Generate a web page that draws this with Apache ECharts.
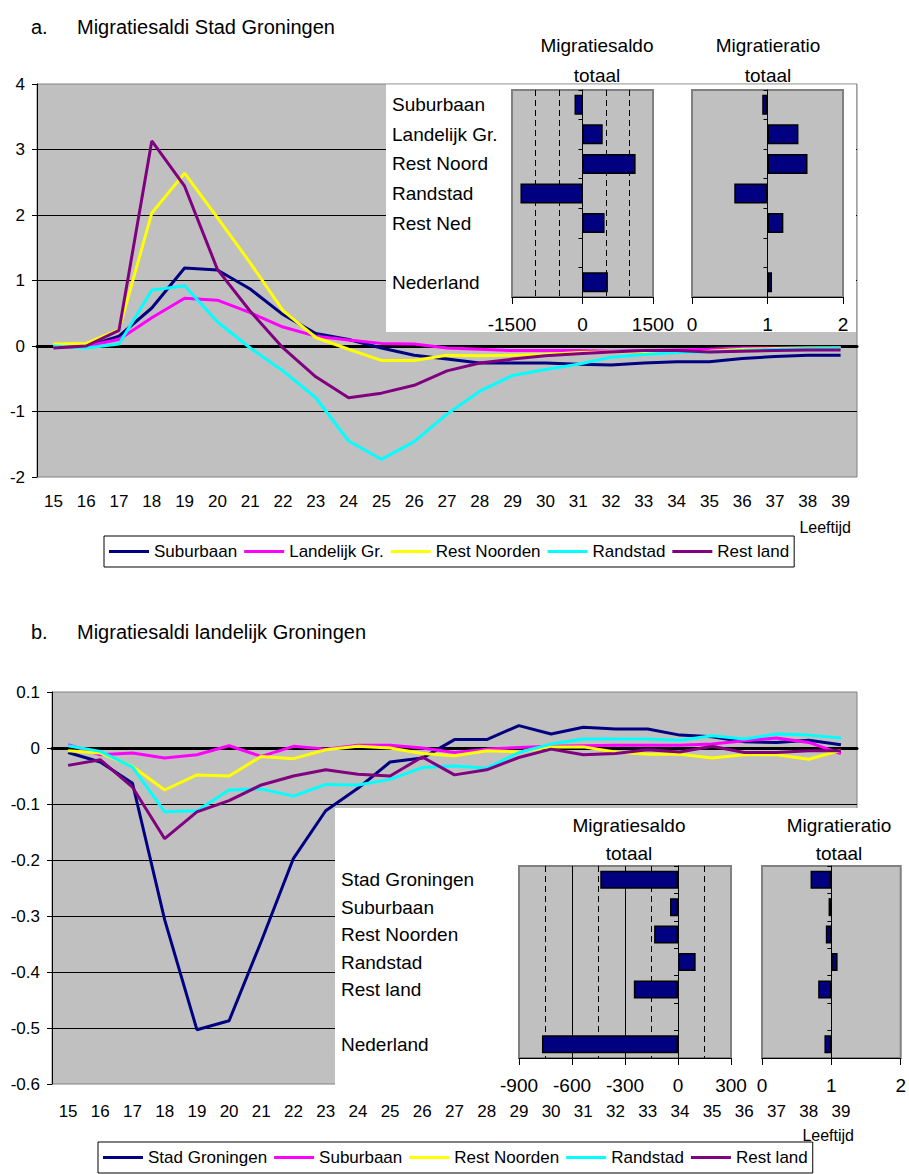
<!DOCTYPE html>
<html>
<head>
<meta charset="utf-8">
<title>Migratiesaldi Groningen</title>
<script src="https://cdn.jsdelivr.net/npm/echarts@6/dist/echarts.min.js"></script>
<style>
  html, body { margin: 0; padding: 0; background: #fff; }
  #chart { width: 909px; height: 1174px; }
</style>
</head>
<body>
<div id="chart"></div>
<script>
var FONT = "'Liberation Sans', Arial, Helvetica, sans-serif";

// x categories (leeftijd)
var ages = ['15','16','17','18','19','20','21','22','23','24','25','26','27',
            '28','29','30','31','32','33','34','35','36','37','38','39'];

// panel a: Stad Groningen
var namesA = ['Suburbaan', 'Landelijk Gr.', 'Rest Noorden', 'Randstad', 'Rest land'];
var suburbaanA   = [-0.01, -0.01, 0.15, 0.58, 1.19, 1.16, 0.87, 0.48, 0.19, 0.10, -0.03, -0.14, -0.20, -0.26, -0.26, -0.26, -0.28, -0.29, -0.26, -0.24, -0.24, -0.19, -0.16, -0.14, -0.14];
var landelijkA   = [-0.01, 0.00, 0.10, 0.43, 0.73, 0.70, 0.51, 0.29, 0.15, 0.09, 0.04, 0.03, -0.03, -0.05, -0.07, -0.07, -0.07, -0.08, -0.07, -0.06, -0.05, -0.03, -0.03, -0.03, -0.03];
var restNoordenA = [0.03, 0.04, 0.25, 2.03, 2.64, 1.96, 1.27, 0.54, 0.13, -0.05, -0.22, -0.22, -0.14, -0.15, -0.14, -0.13, -0.10, -0.09, -0.08, -0.10, -0.08, -0.05, -0.04, -0.03, -0.03];
var randstadA    = [0.00, -0.03, 0.03, 0.85, 0.92, 0.37, -0.03, -0.38, -0.79, -1.45, -1.73, -1.46, -1.04, -0.69, -0.45, -0.36, -0.28, -0.17, -0.13, -0.10, -0.09, -0.07, -0.05, -0.04, -0.03];
var restLandA    = [-0.03, 0.00, 0.24, 3.13, 2.44, 1.17, 0.53, -0.03, -0.47, -0.79, -0.72, -0.60, -0.38, -0.26, -0.20, -0.15, -0.12, -0.09, -0.07, -0.07, -0.09, -0.08, -0.07, -0.06, -0.06];

// panel b: landelijk Groningen
var namesB = ['Stad Groningen', 'Suburbaan', 'Rest Noorden', 'Randstad', 'Rest land'];
var stadB        = [-0.008, -0.025, -0.063, -0.307, -0.503, -0.487, -0.345, -0.197, -0.112, -0.072, -0.025, -0.018, 0.015, 0.015, 0.040, 0.025, 0.037, 0.034, 0.034, 0.023, 0.020, 0.011, 0.010, 0.014, 0.006];
var suburbaanB   = [0.006, -0.012, -0.009, -0.018, -0.012, 0.004, -0.015, 0.003, -0.002, 0.005, 0.005, 0.000, -0.008, -0.002, 0.001, 0.003, 0.004, 0.005, 0.005, 0.005, 0.007, 0.013, 0.018, 0.010, -0.010];
var restNoordenB = [-0.005, -0.009, -0.033, -0.075, -0.048, -0.050, -0.015, -0.019, -0.003, 0.003, 0.000, -0.010, -0.014, -0.005, -0.007, 0.002, 0.002, -0.007, -0.011, -0.011, -0.018, -0.012, -0.012, -0.020, -0.004];
var randstadB    = [0.004, -0.006, -0.034, -0.114, -0.112, -0.075, -0.073, -0.086, -0.065, -0.066, -0.056, -0.035, -0.032, -0.036, -0.008, 0.007, 0.016, 0.016, 0.016, 0.014, 0.022, 0.016, 0.025, 0.023, 0.018];
var restLandB    = [-0.031, -0.021, -0.070, -0.162, -0.114, -0.094, -0.066, -0.050, -0.039, -0.047, -0.050, -0.016, -0.048, -0.039, -0.017, -0.002, -0.012, -0.010, -0.003, -0.007, 0.003, -0.008, -0.008, -0.005, -0.005];

// inset bars
var regionsA = ['Suburbaan', 'Landelijk Gr.', 'Rest Noord', 'Randstad', 'Rest Ned', '', 'Nederland'];
var saldoA   = [-170, 430, 1130, -1320, 470, null, 540];
var ratioA   = [0.93, 1.41, 1.53, 0.56, 1.21, null, 1.06];

var regionsB = ['Stad Groningen', 'Suburbaan', 'Rest Noorden', 'Randstad', 'Rest land', '', 'Nederland'];
var saldoB   = [-440, -45, -135, 100, -250, null, -770];
var ratioB   = [0.70, 0.96, 0.92, 1.09, 0.81, null, 0.90];

var lineColors = ['#000080', '#ff00ff', '#ffff00', '#00ffff', '#800080'];

var chart = echarts.init(document.getElementById('chart'), null, { renderer: 'svg' });

var mainGrid = { show: true, backgroundColor: '#c0c0c0', borderColor: '#808080', borderWidth: 1, z: 0 };
var insetGrid = { show: true, backgroundColor: '#c0c0c0', borderColor: '#808080', borderWidth: 2, z: 2 };

function grid(base, l, t, w, h) {
  return Object.assign({}, base, { left: l, top: t, width: w, height: h });
}

function mainX(gi, margin) {
  return [{
    type: 'category', gridIndex: gi, data: ages, position: 'bottom',
    axisLine: { show: false, onZero: false }, axisTick: { show: false },
    axisLabel: { interval: 0, fontSize: 17, fontFamily: FONT, color: '#000', margin: margin }
  }, {
    // thick black line at 0
    type: 'category', gridIndex: gi, data: ages, position: 'bottom',
    axisLine: { show: true, onZero: true, lineStyle: { color: '#000', width: 3 } },
    axisTick: { show: false }, axisLabel: { show: false }
  }];
}

function mainY(gi, min, max, step) {
  return {
    type: 'value', gridIndex: gi, min: min, max: max, interval: step, position: 'left',
    axisLine: { show: true, onZero: false, lineStyle: { color: '#000', width: 1 } },
    axisTick: { show: true, length: 5, lineStyle: { color: '#000' } },
    axisLabel: { fontSize: 17, fontFamily: FONT, color: '#000', margin: 12,
      showMinLabel: true, showMaxLabel: true,
      formatter: function (v) { return String(Math.round(v * 10) / 10); } },
    splitLine: { show: true, showMinLine: false, showMaxLine: false, lineStyle: { color: '#000', width: 1 } }
  };
}

function insetX(gi, min, max, step, minorSplit, major, fmt) {
  return {
    type: 'value', gridIndex: gi, min: min, max: max, interval: step, position: 'bottom', z: 2,
    axisLine: { show: true, onZero: false, lineStyle: { color: '#000', width: 1 } },
    axisTick: { show: true, length: 7, lineStyle: { color: '#000' } },
    axisLabel: { fontSize: 19, fontFamily: FONT, color: '#000', margin: 18,
      showMinLabel: true, showMaxLabel: true, formatter: fmt },
    splitLine: { show: major, showMinLine: false, showMaxLine: false, lineStyle: { color: '#000', width: 1 } },
    minorTick: { show: false, splitNumber: minorSplit || 2 },
    minorSplitLine: { show: !!minorSplit, lineStyle: { color: '#000', width: 1, type: [6, 4] } }
  };
}

function catLine(gi, cats) {
  return {
    type: 'category', gridIndex: gi, data: cats, inverse: true, position: 'left', z: 2,
    axisLine: { show: true, onZero: true, lineStyle: { color: '#000', width: 1 } },
    axisTick: { show: true, length: 4, lineStyle: { color: '#000' } },
    axisLabel: { show: false }
  };
}

function catLabels(gi, cats, margin) {
  return {
    type: 'category', gridIndex: gi, data: cats, inverse: true, position: 'left', z: 2,
    axisLine: { show: false, onZero: false }, axisTick: { show: false },
    axisLabel: { interval: 0, align: 'left', margin: margin, fontSize: 19, fontFamily: FONT, color: '#000' }
  };
}

function plainFmt(v) { return String(v); }
function ratioFmt(v) { return String(Math.round((v + 1) * 10) / 10); }
function offsetFromOne(arr) { return arr.map(function (v) { return v == null ? null : v - 1; }); }

function lines(names, datasets, xi, yi) {
  return names.map(function (n, i) {
    return {
      type: 'line', name: n, xAxisIndex: xi, yAxisIndex: yi, data: datasets[i],
      symbol: 'none', showSymbol: false, z: 4,
      lineStyle: { color: lineColors[i], width: 3 }, itemStyle: { color: lineColors[i] }
    };
  });
}

function bar(name, data, xi, yi, w) {
  return {
    type: 'bar', name: name, xAxisIndex: xi, yAxisIndex: yi, data: data, barWidth: w, z: 3,
    itemStyle: { color: '#000080', borderColor: '#000', borderWidth: 1.5 }
  };
}

function legend(names, l, t) {
  return {
    left: l, top: t, orient: 'horizontal', icon: 'rect',
    itemWidth: 40, itemHeight: 3, itemGap: 7, padding: [7, 5, 7, 5],
    borderColor: '#000', borderWidth: 1, backgroundColor: '#fff',
    textStyle: { fontSize: 17, fontFamily: FONT, color: '#000' },
    data: names.map(function (n, i) { return { name: n, itemStyle: { color: lineColors[i], borderWidth: 0 } }; })
  };
}

function txt(s, x, y, size, align) {
  return {
    type: 'text', x: x, y: y, z: 5,
    style: { text: s, font: size + 'px ' + FONT, fill: '#000',
      textAlign: align || 'left', align: align || 'left',
      textVerticalAlign: 'middle', verticalAlign: 'middle' }
  };
}

var option = {
  animation: false,
  backgroundColor: '#fff',
  textStyle: { fontFamily: FONT },
  grid: [
    grid(mainGrid, 37, 84, 820, 393),
    grid(insetGrid, 512, 90, 141, 207),
    grid(insetGrid, 692, 90, 151, 207),
    grid(mainGrid, 52, 692, 805, 392),
    grid(insetGrid, 519, 866, 212, 192),
    grid(insetGrid, 762, 866, 142, 192)
  ],
  xAxis: [].concat(
    mainX(0, 16),
    [insetX(1, -1500, 1500, 1500, 3, false, plainFmt), insetX(2, -1, 1, 1, 0, false, ratioFmt)],
    mainX(3, 19),
    [insetX(4, -900, 300, 300, 2, true, plainFmt), insetX(5, -1, 1, 1, 0, false, ratioFmt)]
  ),
  yAxis: [
    mainY(0, -2, 4, 1),
    catLine(1, regionsA),
    catLabels(1, regionsA, 120),
    catLine(2, regionsA),
    mainY(3, -0.6, 0.1, 0.1),
    catLine(4, regionsB),
    catLabels(4, regionsB, 178),
    catLine(5, regionsB)
  ],
  legend: [legend(namesA, 104, 536), legend(namesB, 98, 1142)],
  series: [].concat(
    lines(namesA, [suburbaanA, landelijkA, restNoordenA, randstadA, restLandA], 0, 0),
    lines(namesB, [stadB, suburbaanB, restNoordenB, randstadB, restLandB], 4, 4),
    [
      bar('Migratiesaldo totaal (a)', saldoA, 2, 1, 20),
      bar('Migratieratio totaal (a)', offsetFromOne(ratioA), 3, 3, 20),
      bar('Migratiesaldo totaal (b)', saldoB, 6, 5, 18),
      bar('Migratieratio totaal (b)', offsetFromOne(ratioB), 7, 7, 18)
    ]
  ),
  graphic: [
    { type: 'rect', z: 1, shape: { x: 386, y: 84.5, width: 470, height: 247.5 }, style: { fill: '#fff' } },
    { type: 'rect', z: 1, shape: { x: 335, y: 808, width: 574, height: 278 }, style: { fill: '#fff' } },
    txt('a.', 31, 27, 20),
    txt('Migratiesaldi Stad Groningen', 77, 27, 20),
    txt('b.', 31, 632, 20),
    txt('Migratiesaldi landelijk Groningen', 77, 632, 20),
    txt('Migratiesaldo', 597, 45, 19, 'center'),
    txt('totaal', 597, 75, 19, 'center'),
    txt('Migratieratio', 768, 45, 19, 'center'),
    txt('totaal', 768, 75, 19, 'center'),
    txt('Migratiesaldo', 629, 825, 19, 'center'),
    txt('totaal', 629, 853, 19, 'center'),
    txt('Migratieratio', 839, 825, 19, 'center'),
    txt('totaal', 839, 853, 19, 'center'),
    txt('Leeftijd', 851, 527, 16, 'right'),
    txt('Leeftijd', 854, 1135, 16, 'right')
  ]
};

chart.setOption(option);
</script>
</body>
</html>
